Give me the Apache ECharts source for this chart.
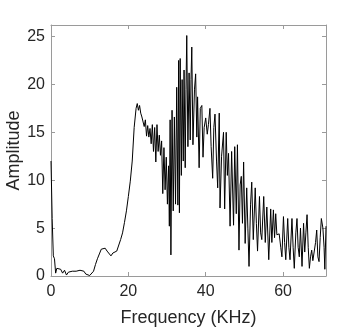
<!DOCTYPE html>
<html>
<head>
<meta charset="utf-8">
<script src="https://cdn.jsdelivr.net/npm/echarts@6/dist/echarts.min.js"></script>
<style>html,body{margin:0;padding:0;background:#fff}#c{width:360px;height:328px}</style>
</head>
<body>
<div id="c"></div>
<script>
var freq = [0,0.3,0.6,0.9,1.2,1.5,2,2.5,3,3.5,4,4.5,5,5.5,6,6.5,7,7.5,8,8.5,9,9.5,10,
10.5,11,11.5,12,12.5,13,13.5,14,14.5,15,15.5,16,16.5,17,17.5,18,18.5,19,19.5,20,20.5,21,21.5,22,
22.3,22.6,22.9,23.2,23.5,23.8,24.1,24.4,24.7,25,25.3,25.6,25.9,26.2,26.5,26.8,27.1,27.4,27.7,28,28.3,28.6,28.9,29.2,29.5,29.8,30.1,30.4,30.6,30.8,31,31.3,31.6,31.9,32.2,32.5,32.8,33,33.2,33.4,33.7,33.9,34.2,34.4,34.7,34.9,35.1,35.4,35.7,36,36.2,36.4,36.7,37.1,37.4,37.7,37.9,38.3,38.6,39,39.3,39.6,40,40.4,40.7,41.1,41.4,41.8,42.1,42.4,42.8,43.1,43.5,43.7,44.1,44.6,44.9,45.3,45.6,45.9,46.3,46.7,47.2,47.5,47.9,48.2,48.6,48.9,49.2,49.5,49.8,50.2,50.6,50.9,51.2,51.6,51.9,52.3,52.8,53.1,53.4,53.9,54.2,54.5,55,55.4,55.8,56.3,56.8,57.1,57.5,57.8,58.1,58.4,58.7,59,59.4,59.7,60.1,60.4,60.7,61.2,61.5,61.8,62.3,62.6,62.9,63.3,63.6,63.9,64.2,64.5,64.9,65.3,65.6,65.9,66.2,66.5,66.8,67.1,67.4,67.7,68.1,68.4,68.7,69,69.3,69.6,69.9,70.3,70.6,70.8,71.1];
var amplitude = [12,6,2.1,1.8,0.3,0.8,0.6,0.7,0.3,0.6,0.1,0.4,0.2,0.5,0.3,0.5,0.3,0.6,0.4,0.5,0.2,0.4,0.05,
0.2,0.5,1.2,1.8,2.3,2.8,3.0,2.9,2.6,2.7,2.1,2.4,2.6,2.6,2.7,3.8,4.5,5.6,6.8,8.3,9.9,12,15.5,17.5,
18.0,17.3,17.8,17.0,16.6,16.4,15.6,16.3,14.6,15.7,14.5,15.4,13.8,15.8,13.0,15.5,11.9,15.8,13.0,14.7,12.6,14.1,8.6,13.4,9.0,12.4,7.5,11.5,5.2,16.3,2.2,17.3,6.8,16.6,7.5,19.7,7.4,22.5,6.6,22.7,10.5,20.5,12,21.5,11.3,19.5,25.1,13.5,21.2,14.2,20.5,23.9,13.7,19.5,21.1,14.5,18.7,11.3,17.5,17.8,12.4,15.5,16.5,14.8,15.8,17.5,13.5,10.2,15.5,16.9,12,9.2,17.0,7.1,12.5,15.0,7.0,15.0,10.5,12.8,5.2,13.0,5.3,13.5,6.5,13.7,2.7,9.5,10.4,5.5,11.9,3.4,9.2,5,1.0,7.5,9.8,3.8,9.2,5.5,2.6,8.3,4.5,3.8,8.3,3.5,7.2,1.7,7.0,3.5,6.9,4.0,6.5,4.3,4.1,4.4,3.0,2.0,6.2,3.5,1.7,6.0,3.0,1.7,6.0,3.0,0.8,4.5,6.0,3.0,2.0,5.0,1.0,5.5,2.5,4.5,6.4,3.0,0.8,2.0,2.7,1.6,1.5,3.5,4.8,2.0,1.5,4.0,6.0,5.0,3.0,0.7,5.2];
var xTicks = [0,20,40,60];
var yTicks = [0,5,10,15,20,25];

var pts = freq.map(function(f,i){return [f, amplitude[i]];});
var boxColor = '#9a9a9a';
var txt = '#262626';
var font = 'Liberation Sans, Arial, Helvetica, sans-serif';
var chart = echarts.init(document.getElementById('c'), null, {renderer:'canvas'});
function xAxisCfg(pos, labels){
  return {type:'value', position:pos, min:0, max:71.1, interval:20,
    axisLine:{show:true, onZero:false, lineStyle:{color:boxColor, width:1}},
    axisTick:{show:true, inside:true, length:4, lineStyle:{color:boxColor}},
    splitLine:{show:false},
    axisLabel:{show:labels, showMaxLabel:false, color:txt, fontSize:16, fontFamily:font, margin:8,
      formatter:function(v){return xTicks.indexOf(v)>=0 ? String(v) : '';}},
    name: labels ? 'Frequency (KHz)' : '', nameLocation:'middle', nameGap:33,
    nameTextStyle:{color:txt, fontSize:18, fontFamily:font}};
}
function yAxisCfg(pos, labels){
  return {type:'value', position:pos, min:0, max:26.2, interval:5,
    axisLine:{show:true, onZero:false, lineStyle:{color:boxColor, width:1}},
    axisTick:{show:true, inside:true, length:4, lineStyle:{color:boxColor}},
    splitLine:{show:false},
    axisLabel:{show:labels, showMaxLabel:false, color:txt, fontSize:16, fontFamily:font, margin:6,
      formatter:function(v){return yTicks.indexOf(v)>=0 ? String(v) : '';}},
    name: labels ? 'Amplitude' : '', nameLocation:'middle', nameGap:28, nameMoveOverlap:false,
    nameTextStyle:{color:txt, fontSize:18, fontFamily:font}};
}
chart.setOption({
  animation:false,
  backgroundColor:'#fff',
  grid:{left:51, top:25, right:34, bottom:52, containLabel:false, outerBoundsMode:'none'},
  xAxis:[xAxisCfg('bottom', true), xAxisCfg('top', false)],
  yAxis:[yAxisCfg('left', true), yAxisCfg('right', false)],
  series:[{type:'line', data:pts, showSymbol:false, symbol:'none',
    lineStyle:{color:'#000', width:1}, xAxisIndex:0, yAxisIndex:0}]
});
</script>
</body>
</html>
